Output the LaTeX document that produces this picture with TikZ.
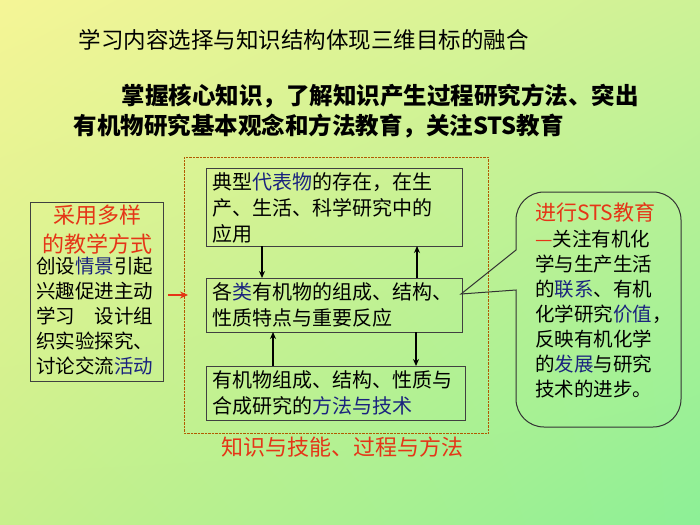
\documentclass[tikz,border=0pt]{standalone}
\usepackage{fontspec}
\setmainfont{Noto Sans CJK SC}
\usetikzlibrary{arrows.meta,shadings}
\definecolor{bl}{HTML}{1A237E}
\definecolor{rd}{HTML}{E53517}
\definecolor{ul}{RGB}{245,245,150}
\definecolor{ur}{RGB}{205,242,150}
\definecolor{ll}{RGB}{200,240,140}
\definecolor{lr}{RGB}{140,240,150}
\newcommand{\B}[1]{\textcolor{bl}{#1}}
\begin{document}
\begin{tikzpicture}[x=1pt,y=-1pt,
 bx/.style={draw=black!75,line width=1pt,inner sep=0pt},
 txt/.style={font=\fontsize{20}{26}\selectfont,align=left,anchor=north west,inner sep=0pt},
 ar/.style={-{Stealth[length=7pt,width=6pt]},line width=1.4pt}]
\shade[upper left=ul,upper right=ur,lower left=ll,lower right=lr] (0,0) rectangle (700,524);
\useasboundingbox (0,0) rectangle (700,524);
\node[anchor=west,font=\fontsize{22.5}{24}\selectfont] (title) at (75,40) {学习内容选择与知识结构体现三维目标的融合};
\node[anchor=west,font=\bfseries\fontsize{23.5}{26}\selectfont] (s1) at (118,96) {掌握核心知识，了解知识产生过程研究方法、突出};
\node[anchor=west,font=\bfseries\fontsize{23.5}{26}\selectfont] (s2) at (70,126) {有机物研究基本观念和方法教育，关注STS教育};
\draw[densely dotted,draw=orange!70!black] (184,157) rectangle (488,433);
\draw[bx] (206,168) rectangle (462,246);
\node[txt] (t1) at (212,172) {典型\B{代表物}的存在，在生\\产、生活、科学研究中的\\应用};
\draw[bx] (206,278) rectangle (462,332);
\node[txt] (t2) at (212,282) {各\B{类}有机物的组成、结构、\\性质特点与重要反应};
\draw[bx] (206,366) rectangle (465,420);
\node[txt] (t3) at (212,370) {有机物组成、结构、性质与\\合成研究的\B{方法与技术}};
\coordinate (a1) at (262,246); \coordinate (a2) at (262,278);
\draw[ar] (a1) -- (a2);
\coordinate (b1) at (417,278); \coordinate (b2) at (417,246);
\draw[ar] (b1) -- (b2);
\coordinate (c1) at (273,366); \coordinate (c2) at (273,332);
\draw[ar] (c1) -- (c2);
\coordinate (d1) at (416,332); \coordinate (d2) at (416,366);
\draw[ar] (d1) -- (d2);
\draw[bx] (30,202) rectangle (163,381);
\node[txt,font=\fontsize{22}{29}\selectfont,text=rd,align=center,anchor=north] (lh) at (97,205) {采用多样\\的教学方式};
\node[txt,font=\fontsize{19.5}{25}\selectfont] (lt) at (36,257) {创设\B{情景}引起\\兴趣促进主动\\学习\quad 设计组\\织实验探究、\\讨论交流\B{活动}};
\coordinate (r1) at (168,295); \coordinate (r2) at (188,295);
\draw[-{Stealth[length=8pt,width=7pt]},rd,line width=1.6pt] (r1) -- (r2);
\draw[line width=1pt,draw=black!80] (461,294) -- (516,250) -- (516,220) arc[start angle=180,end angle=90,x radius=28,y radius=-28] -- (653,192) arc[start angle=90,end angle=0,x radius=28,y radius=-28] -- (681,399) arc[start angle=0,end angle=-90,x radius=28,y radius=-28] -- (544,427) arc[start angle=270,end angle=180,x radius=28,y radius=-28] -- (516,290) -- cycle;
\node[anchor=north west,font=\fontsize{21}{24}\selectfont,text=rd,inner sep=0pt] (ch) at (535,203) {进行STS教育};
\node[txt,font=\fontsize{19.5}{25}\selectfont] (ct) at (535,230) {\textcolor{rd}{—}关注有机化\\学与生产生活\\的\B{联系}、有机\\化学研究\B{价值}，\\反映有机化学\\的\B{发展}与研究\\技术的进步。};
\node[font=\fontsize{22}{24}\selectfont,text=rd] (bot) at (342,447) {知识与技能、过程与方法};
\end{tikzpicture}
\end{document}
